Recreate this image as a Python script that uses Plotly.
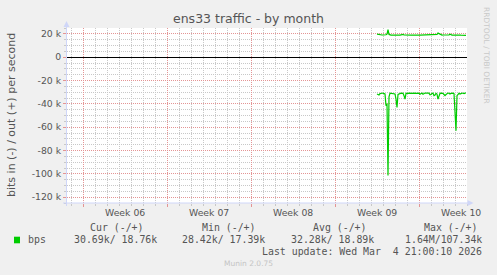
import pandas as pd
import plotly.graph_objects as go

# ---------------- data ----------------
title = "ens33 traffic - by month"
y_title = "bits in (-) / out (+) per second"
start_time = "2026-02-26 12:00"   # first sample (2-hour resolution)
# inbound traffic, kbit/s (drawn negative)
in_kbps = [31.5, 32.0, 32.4, 31.2, 30.8, 30.9, 30.8, 31.0, 31.5, 41.5,
           40.0, 101.5, 34.0, 30.8, 30.9, 30.8, 31.0, 30.8, 31.5, 36.0,
           43.0, 32.0, 31.6, 30.9, 30.8, 31.0, 30.8, 33.0, 36.0, 31.0,
           30.8, 30.9, 30.8, 30.8, 31.0, 30.8, 30.9, 30.8, 30.8, 31.0,
           30.8, 30.8, 30.9, 31.8, 30.9, 30.8, 31.8, 30.9, 30.8, 30.8,
           31.0, 30.8, 30.8, 32.3, 32.0, 31.0, 30.9, 33.0, 32.5, 31.0,
           31.6, 36.0, 33.0, 31.0, 30.8, 30.9, 31.0, 32.0, 33.0, 32.0,
           31.0, 30.8, 30.9, 31.6, 31.0, 30.8, 30.9, 31.2, 45.0, 63.0,
           33.0, 32.2, 31.0, 31.6, 31.0, 30.8, 30.9, 31.2, 30.8, 30.7]
# outbound traffic, kbit/s
out_kbps = [19.7, 19.5, 19.0, 19.0, 18.9, 19.0, 19.0, 18.9, 19.0, 19.2,
            19.8, 23.5, 19.5, 19.0, 18.9, 19.0, 18.9, 18.9, 19.0, 18.9,
            18.9, 19.0, 18.9, 18.9, 19.0, 19.0, 19.6, 19.0, 18.9, 18.9,
            19.0, 18.9, 18.9, 19.0, 18.9, 18.9, 19.0, 18.9, 18.9, 19.0,
            18.9, 18.9, 19.0, 18.9, 18.9, 19.0, 18.9, 18.9, 19.0, 18.9,
            18.9, 19.0, 18.9, 18.9, 19.0, 18.9, 18.9, 19.0, 18.9, 18.9,
            19.5, 20.6, 20.2, 19.3, 19.0, 18.9, 19.0, 18.9, 18.9, 19.0,
            18.9, 18.9, 19.0, 19.6, 19.0, 18.9, 18.9, 19.0, 18.9, 18.9,
            19.0, 18.9, 18.9, 19.0, 18.9, 18.9, 18.8, 18.8, 18.8, 18.76]
x_range = ["2026-01-31 16:00", "2026-03-06 00:00"]
week_mid = ["2026-02-05 12:00", "2026-02-12 12:00", "2026-02-19 12:00",
            "2026-02-26 12:00", "2026-03-05 12:00"]
week_labels = ["Week 06", "Week 07", "Week 08", "Week 09", "Week 10"]
y_ticks = [20000, 0, -20000, -40000, -60000, -80000, -100000, -120000]
y_tick_labels = ["20 k", "0", "-20 k", "-40 k", "-60 k", "-80 k", "-100 k", "-120 k"]
legend_head = ["Cur (-/+)", "Min (-/+)", "Avg (-/+)", "Max (-/+)"]
legend_vals = ["30.69k/ 18.76k", "28.42k/ 17.39k", "32.28k/ 18.89k", "1.64M/107.34k"]
series_name = "bps"
last_update = "Last update: Wed Mar  4 21:00:10 2026"
footer = "Munin 2.0.75"
side_text = "RRDTOOL / TOBI OETIKER"

# ---------------- style ----------------
W, H = 497, 275
L, R, T, B = 67, 30, 28, 72
PW, PH = W - L - R, H - T - B
GREEN = "#00cc00"
FONT = "#555555"
AXIS = "#CFD6F8"
MAJ = "#e49494"
MIN = "#c8c8c8"
SANS = "DejaVu Sans"
MONO = "DejaVu Sans Mono"


def px(x):
    return (x - L) / PW


def py(y):
    return (T + PH - y) / PH


times = pd.date_range(start_time, periods=len(in_kbps), freq="2h")

fig = go.Figure()
fig.add_trace(go.Scatter(x=times, y=[v * 1000 for v in out_kbps], mode="lines",
                         line=dict(color=GREEN, width=1.2), hoverinfo="skip"))
fig.add_trace(go.Scatter(x=times, y=[-v * 1000 for v in in_kbps], mode="lines",
                         line=dict(color=GREEN, width=1.2), hoverinfo="skip"))

fig.update_layout(
    width=W, height=H,
    margin=dict(l=L, r=R, t=T, b=B, pad=0),
    paper_bgcolor="#f0f0f0", plot_bgcolor="#ffffff",
    showlegend=False,
    font=dict(family=SANS, color=FONT, size=9.3),
    xaxis=dict(type="date", range=x_range, showticklabels=False,
               tick0="2026-02-02", dtick=7 * 86400000,
               showgrid=True, gridcolor=MAJ, gridwidth=1, griddash="1px,1px",
               ticks="outside", ticklen=3, tickcolor=MAJ,
               minor=dict(tick0="2026-02-02", dtick=86400000, showgrid=True,
                          gridcolor=MIN, griddash="1px,1px",
                          ticks="outside", ticklen=2, tickcolor=MIN),
               zeroline=False, showline=False, fixedrange=True),
    yaxis=dict(range=[-125000, 25000], tickmode="array", tickvals=y_ticks,
               ticktext=y_tick_labels, tickfont=dict(size=9.3, color=FONT, family=SANS),
               showgrid=True, gridcolor=MAJ, gridwidth=1, griddash="1px,1px",
               ticks="outside", ticklen=3, tickcolor=MAJ,
               minor=dict(dtick=5000, showgrid=True, gridcolor=MIN,
                          griddash="1px,1px", ticks="outside", ticklen=2,
                          tickcolor=MIN),
               zeroline=True, zerolinecolor="#000000", zerolinewidth=1,
               showline=False, fixedrange=True),
)

ann = []
ann.append(dict(text=title, x=px(248.5), y=py(18.5), xanchor="center", yanchor="middle",
                font=dict(size=12.5, family=SANS, color=FONT)))
ann.append(dict(text=y_title, x=px(11), y=py(115), xanchor="center", yanchor="middle",
                textangle=-90, font=dict(size=11, family=SANS, color=FONT)))
ann.append(dict(text=side_text, x=px(486.5), y=py(5), xanchor="center", yanchor="top",
                textangle=90, font=dict(size=7.5, family=SANS, color="#c8c8c8")))
for xm, lab in zip(week_mid, week_labels):
    ann.append(dict(text=lab, x=xm, xref="x", y=py(212.7), yref="paper",
                    xanchor="center", yanchor="middle",
                    font=dict(size=9.3, family=SANS, color=FONT)))
head_x = [89.3, 200.7, 311.7, 422.7]
val_right = [158.3, 266.0, 374.7, 482.7]
for hx, h in zip(head_x, legend_head):
    ann.append(dict(text=h, x=px(hx - 1), y=py(227.3), xanchor="left", yanchor="middle",
                    font=dict(size=9.9, family=MONO, color=FONT)))
for vx, v in zip(val_right, legend_vals):
    ann.append(dict(text=v.replace(" ", "&nbsp;"), x=px(vx + 1), y=py(239.5),
                    xanchor="right", yanchor="middle",
                    font=dict(size=9.9, family=MONO, color=FONT)))
ann.append(dict(text=series_name, x=px(25.7), y=py(239.5), xanchor="left", yanchor="middle",
                font=dict(size=9.9, family=MONO, color=FONT)))
ann.append(dict(text=last_update.replace(" ", "&nbsp;"), x=px(483.7), y=py(251.7),
                xanchor="right", yanchor="middle",
                font=dict(size=9.9, family=MONO, color=FONT)))
ann.append(dict(text=footer, x=px(248), y=py(263.3), xanchor="center", yanchor="middle",
                font=dict(size=7.5, family=SANS, color="#c4c4c4")))
for a in ann:
    a.setdefault("xref", "paper")
    a.setdefault("yref", "paper")
    a["showarrow"] = False
fig.update_layout(annotations=ann)

shapes = []
# axes (rrdtool style) and arrows
shapes.append(dict(type="line", xref="paper", yref="paper", x0=px(63), x1=px(469),
                   y0=py(203), y1=py(203), line=dict(color=AXIS, width=1), layer="above"))
shapes.append(dict(type="line", xref="paper", yref="paper", x0=px(66.5), x1=px(66.5),
                   y0=py(206), y1=py(24), line=dict(color=AXIS, width=1), layer="above"))
shapes.append(dict(type="path", xref="paper", yref="paper",
                   path=f"M {px(66.5)},{py(21)} L {px(63.5)},{py(27)} L {px(69.5)},{py(27)} Z",
                   fillcolor=AXIS, line=dict(width=0), layer="above"))
shapes.append(dict(type="path", xref="paper", yref="paper",
                   path=f"M {px(473.5)},{py(203)} L {px(467.5)},{py(200)} L {px(467.5)},{py(206)} Z",
                   fillcolor=AXIS, line=dict(width=0), layer="above"))
# legend colour box
shapes.append(dict(type="rect", xref="paper", yref="paper", x0=px(14), x1=px(20),
                   y0=py(243.3), y1=py(236.7), fillcolor=GREEN, line=dict(width=0)))
fig.update_layout(shapes=shapes)

fig.write_html("out.html")
